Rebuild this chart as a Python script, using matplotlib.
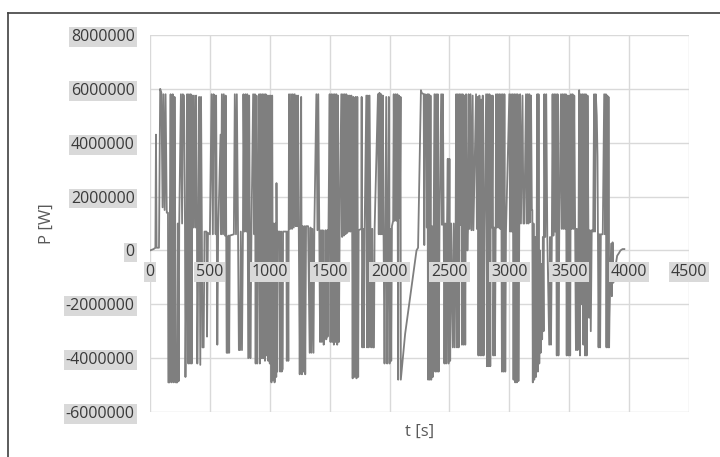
import matplotlib.pyplot as plt
import numpy as np
from matplotlib.lines import Line2D

# power trace, t in s, P in MW (converted to W below)
t_a = [0, 30, 45, 50, 55, 75, 85, 95, 105, 112, 122, 130, 140, 150, 153, 163, 166, 172, 180, 184,
       190, 198, 205, 210, 215, 228, 232, 240, 244, 258, 268, 274, 284, 292, 296, 306, 310, 320, 325, 334,
       340, 348, 354, 361, 367, 378, 385, 392, 395, 405, 410, 420, 426, 433, 438, 448, 455, 472, 476, 484, 500]
p_a = [0.0, 0.05, 0.1, 4.3, 0.1, 0.1, 6.0, 5.85, 1.6, 5.8, 1.5, 5.8, 1.4, 1.4, -4.9, -4.9, 1.3, 5.8, -4.9, 1.2,
       5.8, -4.9, 5.7, 1.1, -4.9, -4.9, 1.0, -4.85, 1.0, 5.8, 1.0, 5.8, 5.75, 0.95, -4.7, 0.9, 5.8, -4.2, 5.8, -4.2,
       5.8, -4.2, 5.75, 0.85, 5.75, 0.85, 5.75, 0.8, -4.2, 0.8, 5.7, -4.25, 5.7, 0.75, -3.6, -3.6, 0.7, 0.7, -3.2, 0.65, 0.6]

t_b = [514, 525, 530, 540, 548, 552, 562, 569, 589, 594, 600, 610, 616, 626, 632, 640, 650, 655, 661, 666,
       700, 708, 718, 725, 735, 742, 752, 758, 768, 776, 780, 790, 797, 806, 812, 820, 828, 838, 847, 861,
       870, 876, 882, 889, 895, 902, 911, 917, 924, 931, 938, 945, 952, 960, 966, 973, 980, 987, 994, 1000,
       1007, 1014, 1020, 1027]
p_b = [5.8, 0.6, 5.8, 5.75, 0.6, 5.75, -3.5, 0.6, 4.3, 0.6, 5.8, 0.6, 5.8, 0.55, 5.75, -3.8, -3.8, 0.55, -3.8, 0.55,
       0.6, 5.8, 0.6, 5.8, 0.65, -3.7, -3.7, 0.7, -3.7, 0.7, 5.8, 0.7, 5.8, 0.7, 5.8, -4.0, 5.75, -4.0, 0.65, 5.8,
       0.6, 5.8, -4.2, 5.75, -4.2, 0.6, 5.8, -4.2, 5.8, -4.0, 5.8, -4.0, 5.8, -4.1, 5.8, -3.9, 5.75, -4.1, 5.75, -4.2,
       5.75, -4.9, 5.75, -4.8]

t_c = [1034, 1040, 1048, 1054, 1056, 1062, 1069, 1083, 1086, 1095, 1100, 1108, 1111, 1139, 1142, 1150, 1155, 1158, 1161, 1170,
       1177, 1186, 1192, 1200, 1208, 1216, 1222, 1230, 1236, 1242, 1250, 1257, 1262, 1268, 1275, 1282, 1290, 1296, 1303, 1320,
       1333, 1340, 1348, 1356, 1365, 1372, 1389, 1398, 1405, 1413, 1420, 1428, 1435, 1443, 1450, 1458, 1465, 1472, 1480, 1483, 1490]
p_c = [1.0, -4.9, 1.0, -4.7, 2.5, -4.5, 0.7, 0.7, -4.5, 0.7, -4.5, -4.4, 0.7, 0.7, -4.1, 0.7, -4.1, 0.75, 5.8, 0.8,
       5.8, 0.8, 5.8, 0.85, 5.8, 0.9, 5.75, 0.9, 5.75, 0.9, -4.6, 0.9, 5.7, -4.6, 0.9, -4.5, 0.9, -4.6, 0.9, 0.9,
       -3.8, 0.85, -3.8, 0.8, -3.8, 0.8, 5.8, 0.75, 5.8, 0.75, -3.4, 0.75, -3.4, 0.75, -3.5, -3.2, 0.75, -3.3, 0.75, -3.2, 0.75]

t_d = [1500, 1507, 1514, 1521, 1528, 1535, 1542, 1549, 1556, 1563, 1570, 1577, 1583, 1597, 1604, 1611, 1618, 1625, 1632, 1639,
       1646, 1653, 1660, 1667, 1674, 1681, 1688, 1692, 1698, 1705, 1712, 1717, 1724, 1731, 1738, 1742, 1764, 1767, 1772, 1780,
       1786, 1792, 1806, 1812, 1818, 1826, 1833, 1840, 1847, 1855, 1862, 1870, 1875, 1903, 1910, 1916, 1923, 1930, 1938, 1944,
       1950, 1958, 1965, 1972, 1980, 1988, 1994, 2000, 2008, 2014, 2020, 2030, 2035, 2042, 2050, 2058, 2065, 2072, 2078, 2086, 2092]
p_d = [5.8, -3.4, 5.8, -3.4, 5.8, -3.5, 5.8, -3.4, 5.8, -3.5, 5.75, -3.4, 0.5, 5.8, 0.5, 5.8, 0.55, 5.8, 0.6, 5.8,
       0.65, 5.75, 0.7, 5.75, 0.7, 5.75, 0.7, -4.75, 5.7, -4.7, 0.75, 5.7, -4.75, 5.7, -4.7, 0.75, 0.8, 5.7, -3.6, 0.8,
       -3.6, 0.8, 5.75, -3.6, 5.75, -3.6, 5.75, 0.8, -3.6, 0.8, -3.6, -3.6, 0.75, 5.8, 0.6, 5.85, 0.6, 5.8, 0.6, 5.75,
       0.6, -4.2, 0.7, 5.7, -4.2, 0.8, 5.7, -4.2, 0.8, -4.1, 0.9, 1.1, 5.8, 1.1, 5.8, 1.1, 5.8, -4.8, 5.75, 1.2, 5.7]

t_e = [2094, 2130, 2215, 2225, 2238, 2262, 2268, 2285, 2290, 2295, 2306, 2311, 2316, 2322, 2328, 2335, 2342, 2348, 2355, 2361, 2368,
       2375, 2382, 2389, 2396, 2403, 2410, 2417, 2431, 2438, 2445, 2452, 2458, 2465, 2472, 2480, 2486, 2492, 2500, 2506, 2514,
       2528, 2536, 2544, 2552, 2556, 2563, 2570, 2577, 2584, 2591, 2597, 2604, 2611, 2618, 2625, 2632, 2639, 2646, 2650, 2655,
       2660, 2668, 2676, 2684, 2694, 2700, 2722, 2729, 2735, 2742, 2750, 2757, 2764, 2771, 2778, 2785, 2792, 2806, 2813, 2820,
       2827, 2834, 2841, 2847, 2854, 2861, 2866, 2874, 2880, 2886]
p_e = [-4.8, -3.1, -0.3, 0.0, 0.1, 5.95, 5.85, 5.8, 0.2, 5.8, 5.75, 0.85, 5.8, -4.8, 5.8, -4.8, 5.75, -4.8, 0.9, -4.7, 0.9,
       5.8, -4.5, 5.8, -4.5, 5.8, -4.5, 0.95, 5.8, 0.95, 5.8, 1.0, -4.2, 1.0, -4.2, 1.0, 3.4, -4.2, 3.4, -4.1, 1.0,
       -3.6, 1.0, -3.6, 0.95, 5.8, -3.6, 5.8, -3.6, 5.8, 0.95, 5.8, -3.5, 5.8, -3.5, 5.75, -3.5, 5.8, 0.9, 0.0, 0.8,
       5.8, 0.8, 5.8, 0.75, 5.75, 0.75, 5.8, 0.8, 5.7, -3.9, 5.75, -3.9, 5.6, -3.9, 5.75, -3.9, 0.85, 5.8, -4.3, 5.8,
       -4.3, 5.8, -4.3, 5.75, 0.85, 5.75, -3.9, 0.85, -3.9, 0.85]

t_f = [2889, 2896, 2903, 2910, 2917, 2924, 2931, 2938, 2945, 2952, 2959, 2966, 2972, 3000, 3007, 3014, 3021, 3028, 3035, 3042,
       3049, 3056, 3063, 3069, 3076, 3083, 3090, 3097, 3110, 3118, 3125, 3139, 3146, 3153, 3160, 3167, 3174, 3181, 3188, 3192,
       3196, 3202, 3208, 3215, 3222, 3228, 3233, 3238, 3244, 3250, 3256, 3262, 3268, 3274, 3280, 3286, 3292, 3300, 3308, 3317,
       3333, 3340, 3348, 3355, 3361, 3368, 3375, 3382, 3389, 3396, 3403, 3410, 3417, 3431, 3438, 3445, 3452, 3459, 3466, 3472,
       3479, 3486, 3493, 3500, 3508]
p_f = [5.8, 0.85, 5.8, 0.85, 5.8, 0.8, 5.8, -4.5, 5.8, -4.5, 5.8, -4.5, 0.7, 5.8, 0.7, 5.8, 0.7, 5.8, -4.8, 5.8,
       -4.9, 5.8, -4.9, 5.8, -4.85, 0.9, 5.8, 1.0, 5.75, 1.0, 1.0, 5.8, 1.0, 5.8, 1.0, 5.8, 1.05, 5.75, 1.5, 1.5,
       -4.9, 1.0, -4.8, 0.5, -4.7, 0.3, 5.8, -4.5, 5.8, -4.2, 0.0, -3.8, -0.5, -3.3, 0.5, -3.0, 5.8, 0.5, 5.8, 0.5,
       -3.5, 0.5, -3.5, 0.5, 5.8, 0.55, 5.8, 0.7, 5.8, -3.9, 5.8, -3.9, 0.8, 5.8, 0.8, 5.8, 0.8, 5.8, 0.8, 5.8,
       -3.9, 5.75, -3.9, 5.75, -3.9]

t_g = [3514, 3521, 3528, 3535, 3542, 3549, 3556, 3563, 3570, 3578, 3583, 3590, 3597, 3604, 3611, 3618, 3625, 3632, 3639, 3646,
       3653, 3660, 3666, 3672, 3680, 3688, 3700, 3708, 3715, 3722, 3730, 3736, 3740, 3745, 3752, 3758, 3764, 3780, 3792, 3799,
       3806, 3811, 3818, 3824, 3828, 3833, 3836, 3850, 3856, 3862, 3868, 3876, 3890, 3900, 3915, 3928, 3945, 3960]
p_g = [5.8, 0.8, 5.8, 0.8, 5.75, 0.8, -3.7, 0.8, -3.7, 0.75, 5.95, -3.9, 5.8, -2.0, 5.8, -3.5, 5.8, -3.9, 5.8, -3.9,
       5.75, 0.75, -2.5, 0.75, -3.0, 0.75, 0.7, 5.8, 0.7, 5.8, 5.0, 3.5, 0.6, -3.6, 0.6, -3.6, 0.6, 0.6, 5.8, 0.6,
       5.8, -3.6, 5.75, -3.6, 5.7, -3.6, -2.5, 0.25, -1.7, 0.3, -1.2, -0.9, -0.5, -0.2, -0.1, 0.0, 0.05, 0.05]

x_ticks = [0, 500, 1000, 1500, 2000, 2500, 3000, 3500, 4000, 4500]
y_ticks = [-6000000, -4000000, -2000000, 0, 2000000, 4000000, 6000000, 8000000]

t = np.concatenate([t_a, t_b, t_c, t_d, t_e, t_f, t_g])
p = np.concatenate([p_a, p_b, p_c, p_d, p_e, p_f, p_g]) * 1e6

label_font = 'Open Sans'
box = dict(boxstyle='square,pad=0.12', facecolor='#d9d9d9', edgecolor='none')

fig = plt.figure(figsize=(7.2, 4.57), dpi=100)
ax = fig.add_axes([150 / 720, 1 - 412 / 457, 539 / 720, 377 / 457])

for x in x_ticks:
    ax.axvline(x, color='#d9d9d9', lw=1.0, zorder=0.5)
for y in y_ticks:
    ax.axhline(y, color='#d9d9d9', lw=1.0, zorder=0.5)

ax.plot(t, p, color='#7f7f7f', lw=1.3, zorder=2)

ax.set_xlim(0, 4500)
ax.set_ylim(-6000000, 8000000)
ax.set_xticks(x_ticks)
ax.set_yticks(y_ticks)
ax.set_xticklabels([str(v) for v in x_ticks])
ax.set_yticklabels([str(v) for v in y_ticks])
for s in ['top', 'right', 'left']:
    ax.spines[s].set_visible(False)
ax.spines['bottom'].set_position(('data', 0))
ax.spines['bottom'].set_visible(False)
ax.tick_params(axis='x', length=0, pad=10, labelsize=11.5, labelcolor='#3a3a3a')
ax.tick_params(axis='y', length=0, pad=11, labelsize=11.5, labelcolor='#3a3a3a')
for lab in ax.get_xticklabels() + ax.get_yticklabels():
    lab.set_fontfamily(label_font)
    lab.set_bbox(box)
ax.xaxis.set_zorder(3)

ax.text(0.5, -0.053, 't [s]', transform=ax.transAxes, ha='center', va='center',
        fontsize=12, color='#595959', family=label_font)
ax.text(-0.191, 0.5, 'P [W]', transform=ax.transAxes, ha='center', va='center',
        rotation=90, fontsize=12, color='#595959', family=label_font)

# outer frame of the chart area
fig.add_artist(Line2D([8 / 720, 1], [1 - 12.5 / 457] * 2, transform=fig.transFigure,
                      color='#404040', lw=1.2))
fig.add_artist(Line2D([8 / 720] * 2, [0, 1 - 12.5 / 457], transform=fig.transFigure,
                      color='#404040', lw=1.2))

plt.savefig('out.png', dpi=100)
